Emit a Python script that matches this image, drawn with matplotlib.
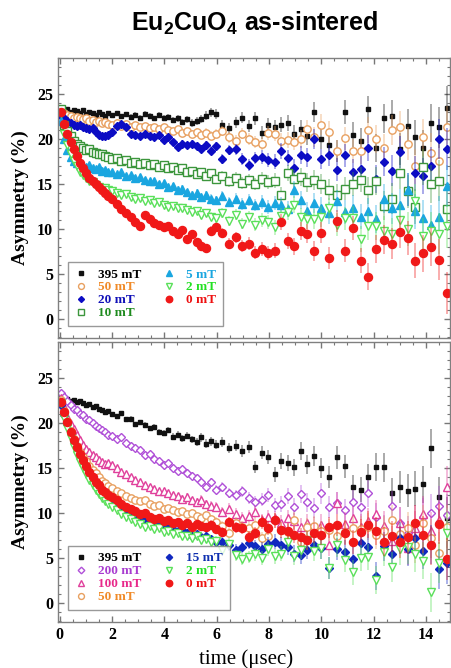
import matplotlib
matplotlib.use("Agg")
import matplotlib.pyplot as plt
from matplotlib.ticker import MultipleLocator

plt.rcParams['font.family'] = ['Liberation Serif', 'DejaVu Serif']
plt.rcParams['mathtext.fontset'] = 'custom'
plt.rcParams['mathtext.rm'] = 'Liberation Sans:bold'
plt.rcParams['mathtext.bf'] = 'Liberation Sans:bold'

# time bins (usec), shared by all spectra
t_us = [0.05, 0.17, 0.29, 0.41, 0.53, 0.65, 0.77, 0.89, 1.01, 1.13, 1.25, 1.37, 1.49, 1.61, 1.73, 1.85,
        1.99, 2.17, 2.35, 2.53, 2.71, 2.89, 3.07, 3.25, 3.43, 3.61, 3.79, 3.97, 4.15, 4.33, 4.51, 4.69,
        4.87, 5.05, 5.23, 5.41, 5.59, 5.77,
        5.97, 6.22, 6.47, 6.72, 6.97, 7.22, 7.47, 7.72, 7.97, 8.22, 8.47, 8.72, 8.97, 9.22, 9.47, 9.72,
        9.99, 10.3, 10.6, 10.9, 11.2, 11.5, 11.8, 12.1, 12.4, 12.7, 13.0, 13.3, 13.6, 13.9, 14.2, 14.5, 14.8]

err = [0.15, 0.15, 0.15, 0.15, 0.15, 0.16, 0.16, 0.16, 0.17, 0.17, 0.18, 0.18, 0.19, 0.19, 0.2, 0.2,
       0.21, 0.22, 0.23, 0.24, 0.25, 0.26, 0.27, 0.28, 0.29, 0.3, 0.31, 0.33, 0.34, 0.35, 0.37, 0.38,
       0.4, 0.42, 0.44, 0.46, 0.48, 0.5,
       0.52, 0.55, 0.58, 0.61, 0.64, 0.67, 0.7, 0.74, 0.78, 0.82, 0.86, 0.9, 0.95, 1.0, 1.05, 1.1,
       1.15, 1.2, 1.25, 1.3, 1.36, 1.42, 1.48, 1.55, 1.62, 1.7, 1.78, 1.86, 1.95, 2.05, 2.15, 2.25, 2.35]

# ---- top panel ----
top_395 = [23.4, 23.2, 23.3, 23.0, 23.2, 23.1, 22.9, 23.2, 22.8, 23.0, 22.9, 22.7, 23.0, 22.8, 22.6, 22.9,
           22.7, 22.9, 22.6, 22.8, 22.5, 22.7, 22.4, 22.8, 22.6, 22.3, 22.7, 22.4, 22.5, 22.1, 22.3, 21.9,
           22.2, 21.8, 22.0, 22.2, 22.6, 23.0,
           22.8, 21.6, 21.2, 21.9, 22.4, 21.5, 22.3, 20.7, 21.6, 21.3, 21.6, 21.8, 20.6, 21.1, 20.4, 23.0,
           20.0, 19.3, 18.7, 23.0, 20.5, 19.8, 23.3, 19.0, 22.3, 22.6, 18.9, 21.5, 20.2, 19.0, 21.8, 21.3, 23.5]
top_50 = [23.1, 22.9, 22.7, 22.6, 22.4, 22.5, 22.3, 22.2, 22.4, 22.0, 22.1, 21.9, 22.0, 21.8, 21.9, 21.7,
          21.6, 21.8, 21.5, 21.7, 21.4, 21.6, 21.3, 21.5, 21.2, 21.4, 21.1, 21.3, 21.0, 20.9, 21.1, 20.7,
          20.9, 20.6, 20.8, 20.5, 20.7, 20.4,
          20.6, 20.9, 20.2, 19.8, 20.6, 20.0, 19.7, 19.5, 20.7, 20.6, 19.8, 19.9, 19.7, 20.0, 21.1, 20.2,
          21.6, 20.8, 18.7, 20.1, 18.7, 18.7, 21.0, 20.0, 19.0, 21.0, 21.3, 19.5, 17.0, 20.2, 18.5, 17.6, 21.3]
top_20 = [22.6, 22.3, 22.0, 21.8, 21.6, 21.5, 21.6, 21.3, 21.2, 21.1, 21.2, 20.8, 20.5, 20.4, 20.3, 20.5,
          20.8, 21.5, 21.7, 21.4, 20.6, 20.5, 20.3, 20.6, 20.4, 20.2, 20.5, 19.9, 20.2, 19.7, 19.1, 19.5,
          19.3, 19.5, 19.2, 18.9, 19.3, 18.7,
          19.2, 17.8, 18.8, 18.9, 17.8, 17.1, 17.9, 18.0, 17.7, 17.5, 18.7, 17.9, 16.8, 18.2, 18.0, 20.0,
          17.8, 18.2, 16.6, 18.2, 16.4, 16.7, 19.0, 15.6, 17.5, 16.5, 18.6, 14.4, 16.2, 15.9, 17.0, 20.0, 18.9]
top_10 = [23.3, 21.6, 20.9, 20.3, 19.8, 19.5, 19.2, 19.0, 18.8, 18.9, 18.6, 18.5, 18.3, 18.4, 18.1, 18.0,
          17.8, 17.9, 17.6, 17.7, 17.4, 17.5, 17.2, 17.4, 17.1, 17.2, 16.9, 17.1, 16.8, 16.9, 16.6, 16.8,
          16.4, 16.5, 16.1, 16.3, 15.9, 16.2,
          15.6, 15.9, 15.3, 15.7, 15.1, 15.5, 15.0, 15.6, 15.2, 15.4, 13.8, 16.2, 15.6, 15.8, 15.2, 15.5,
          15.0, 14.4, 13.8, 14.5, 15.0, 15.5, 14.3, 15.3, 12.6, 13.4, 16.2, 14.2, 12.5, 16.9, 15.0, 15.4, 12.2]
top_5 = [22.0, 20.0, 18.8, 18.0, 17.6, 17.3, 17.2, 17.0, 16.9, 17.1, 16.8, 16.7, 16.9, 16.5, 16.6, 16.4,
         16.4, 16.1, 16.3, 15.9, 16.0, 15.7, 15.8, 15.5, 15.3, 15.4, 15.0, 15.1, 14.7, 14.8, 14.4, 14.5,
         14.1, 13.8, 14.0, 13.6, 13.8, 13.4,
         13.2, 13.7, 13.0, 13.4, 12.8, 13.2, 12.7, 13.0, 12.5, 12.9, 12.7, 12.2, 14.4, 13.2, 12.0, 12.9,
         12.4, 11.8, 13.1, 11.9, 12.4, 11.4, 12.0, 11.1, 13.4, 12.3, 12.7, 14.4, 12.0, 11.2, 10.5, 11.4, 14.8]
top_2 = [22.9, 20.6, 19.4, 18.4, 17.6, 17.0, 16.4, 16.0, 15.7, 15.4, 15.2, 14.9, 14.7, 14.5, 14.6, 14.3,
         14.2, 14.0, 13.8, 13.9, 13.6, 13.4, 13.5, 13.1, 13.2, 12.9, 13.0, 12.7, 12.5, 12.6, 12.3, 12.4,
         12.1, 11.9, 12.0, 11.6, 11.8, 11.4,
         11.2, 11.8, 10.9, 11.6, 10.6, 11.3, 10.5, 11.0, 10.8, 10.2, 11.5, 11.9, 12.7, 11.4, 11.1, 11.1,
         11.4, 12.3, 10.5, 11.2, 11.2, 8.9, 10.3, 10.3, 9.8, 9.5, 11.0, 10.0, 13.1, 9.2, 9.8, 9.5, 10.3]
top_0 = [23.0, 21.7, 20.6, 19.7, 18.9, 18.1, 17.4, 16.8, 16.2, 15.7, 15.3, 15.0, 14.7, 14.3, 14.0, 13.7,
         13.3, 12.8, 12.2, 11.8, 11.3, 10.8, 10.3, 11.6, 11.1, 10.7, 10.5, 10.2, 10.4, 9.8, 9.5, 9.9,
         8.9, 9.5, 8.6, 8.1, 7.9, 9.8,
         10.2, 9.6, 8.4, 9.1, 8.1, 8.4, 7.4, 7.8, 7.3, 7.6, 10.8, 8.7, 8.1, 9.8, 9.5, 7.6,
         9.6, 6.8, 10.9, 7.6, 10.1, 6.5, 4.7, 7.8, 8.8, 8.4, 9.7, 9.0, 6.5, 7.3, 8.0, 6.6, 2.9]

# ---- bottom panel ----
bot_395 = [23.0, 22.8, 22.7, 22.5, 22.6, 22.3, 22.4, 22.2, 22.0, 22.1, 21.8, 21.9, 21.6, 21.5, 21.2, 21.3,
           21.0, 20.8, 21.1, 20.4, 20.5, 19.9, 20.1, 19.8, 19.4, 19.6, 19.0, 18.9, 19.2, 18.5, 18.7, 18.3,
           18.6, 18.2, 17.9, 18.4, 17.7, 18.0,
           17.6, 17.9, 17.2, 17.5, 16.9, 17.3, 15.1, 16.7, 16.2, 14.3, 15.8, 15.6, 15.1, 16.9, 15.4, 16.3,
           15.0, 14.0, 16.2, 15.2, 12.9, 12.6, 14.0, 15.1, 15.1, 12.2, 12.9, 12.5, 12.7, 13.2, 17.2, 11.8, 9.4]
bot_200 = [23.3, 22.9, 22.4, 22.0, 21.6, 21.4, 21.0, 20.9, 20.5, 20.3, 20.0, 19.7, 19.5, 19.2, 19.0, 18.7,
           18.6, 18.2, 18.4, 17.8, 17.5, 17.2, 17.0, 16.4, 16.6, 16.0, 15.8, 15.3, 15.6, 15.0, 14.7, 14.9,
           14.4, 14.1, 13.9, 13.5, 12.9, 13.4,
           12.6, 12.9, 12.2, 12.0, 12.4, 11.7, 11.2, 11.5, 12.0, 10.9, 11.0, 11.9, 10.7, 12.1, 11.2, 10.6,
           12.2, 10.7, 11.1, 10.3, 11.2, 10.7, 12.2, 9.6, 8.2, 10.8, 8.9, 7.8, 8.9, 9.6, 10.0, 10.8, 9.8]
bot_100 = [22.8, 21.8, 20.7, 19.9, 19.3, 18.7, 18.1, 17.6, 17.1, 16.8, 16.5, 16.2, 15.9, 15.7, 15.5, 15.6,
           15.3, 15.0, 14.6, 14.3, 14.0, 13.7, 13.5, 13.1, 12.9, 12.7, 12.4, 12.5, 12.2, 12.0, 11.9, 11.6,
           11.8, 11.4, 11.2, 11.5, 11.0, 10.8,
           10.7, 10.1, 10.5, 9.9, 9.5, 9.7, 10.1, 9.2, 9.6, 9.4, 8.9, 9.4, 9.1, 8.4, 8.9, 8.5,
           8.7, 6.4, 11.1, 8.8, 9.4, 8.5, 9.1, 9.9, 8.6, 6.9, 8.9, 6.1, 8.3, 9.9, 8.0, 9.2, 12.9]
bot_50 = [22.6, 21.3, 20.2, 19.1, 18.2, 17.5, 16.8, 16.2, 15.8, 15.2, 14.8, 14.5, 14.0, 13.6, 13.3, 13.0,
          12.8, 12.4, 12.2, 11.9, 11.7, 11.5, 11.3, 11.4, 11.0, 10.8, 10.9, 10.5, 10.6, 10.3, 10.1, 10.2,
          9.9, 10.0, 9.7, 9.5, 9.8, 9.3,
          9.0, 8.6, 7.8, 8.9, 8.5, 8.3, 8.7, 7.2, 7.4, 9.2, 8.1, 7.9, 9.2, 6.8, 8.4, 8.6,
          8.0, 8.1, 7.5, 7.9, 8.3, 8.2, 8.5, 7.6, 8.0, 9.2, 7.7, 8.3, 6.4, 8.9, 7.2, 5.6, 8.5]
bot_15 = [22.0, 20.9, 19.9, 18.9, 18.0, 17.2, 16.5, 15.8, 15.2, 14.6, 14.0, 13.5, 13.0, 12.6, 12.2, 11.8,
          11.4, 11.0, 10.6, 10.3, 10.0, 9.7, 9.5, 9.2, 9.0, 8.7, 8.8, 8.4, 8.5, 8.2, 8.0, 8.1,
          7.8, 7.5, 7.7, 7.3, 7.5, 7.1,
          6.8, 6.8, 6.4, 5.9, 6.2, 6.7, 6.3, 6.0, 6.6, 6.8, 6.5, 6.2, 5.5, 5.3, 5.9, 6.4,
          6.1, 3.9, 6.0, 5.7, 4.9, 6.7, 6.2, 3.0, 6.3, 5.5, 7.2, 6.0, 7.2, 5.8, 6.5, 3.8, 4.5]
bot_2 = [22.2, 20.6, 19.4, 18.3, 17.3, 16.5, 15.7, 15.0, 14.3, 13.7, 13.1, 12.6, 12.1, 11.7, 11.3, 11.0,
         10.7, 10.3, 9.9, 9.6, 9.3, 9.0, 8.8, 8.5, 8.6, 8.2, 8.3, 7.9, 8.0, 7.7, 7.8, 7.4,
         7.5, 7.2, 7.4, 7.0, 7.1, 6.8,
         6.9, 5.9, 6.6, 5.3, 4.9, 5.1, 5.4, 5.0, 6.0, 5.2, 5.5, 6.8, 5.2, 5.9, 7.0, 5.8,
         6.1, 3.9, 6.4, 4.8, 3.4, 5.0, 5.1, 2.6, 5.7, 4.0, 6.0, 6.2, 5.4, 4.7, 1.2, 4.5, 7.8]
bot_0 = [22.3, 21.2, 20.1, 19.0, 18.1, 17.3, 16.6, 15.9, 15.2, 14.6, 14.0, 13.5, 13.1, 12.6, 12.3, 12.0,
         11.8, 11.4, 11.0, 10.7, 10.5, 10.2, 9.9, 10.0, 9.6, 9.3, 9.5, 9.1, 9.2, 8.9, 9.0, 8.7,
         8.9, 8.5, 8.8, 8.6, 8.4, 8.7,
         8.2, 7.9, 9.0, 8.4, 8.3, 7.3, 7.8, 9.0, 8.3, 9.2, 8.1, 8.0, 7.6, 7.3, 7.0, 7.8,
         7.6, 8.4, 8.7, 7.8, 6.8, 7.9, 8.7, 8.0, 6.8, 7.4, 6.8, 7.3, 8.9, 7.6, 6.4, 8.8, 4.9]

# label, values, marker, marker colour, filled, size, legend text colour
top_series = [
    ('395 mT', top_395, 's', '#111111', True, 2.8, '#000000'),
    ('50 mT', top_50, 'o', '#e8a060', False, 5.3, '#f08a28'),
    ('20 mT', top_20, 'D', '#0c0cc4', True, 3.8, '#1010b8'),
    ('10 mT', top_10, 's', '#3c963c', False, 5.3, '#1e8a1e'),
    ('5 mT', top_5, '^', '#1aa6e0', True, 5.3, '#1aa6e0'),
    ('2 mT', top_2, 'v', '#5ae05a', False, 5.3, '#22e022'),
    ('0 mT', top_0, 'o', '#f01818', True, 5.8, '#ee1010'),
]
bot_series = [
    ('395 mT', bot_395, 's', '#111111', True, 2.8, '#000000'),
    ('200 mT', bot_200, 'D', '#b050d8', False, 4.2, '#a83cd0'),
    ('100 mT', bot_100, '^', '#e0409c', False, 5.3, '#e8288a'),
    ('50 mT', bot_50, 'o', '#e8a060', False, 5.3, '#f08a28'),
    ('15 mT', bot_15, 'D', '#1028c0', True, 4.0, '#1030b0'),
    ('2 mT', bot_2, 'v', '#5ae05a', False, 5.3, '#22e022'),
    ('0 mT', bot_0, 'o', '#f01818', True, 5.8, '#ee1010'),
]

fig = plt.figure(figsize=(4.51, 6.68), dpi=100)
ax1 = fig.add_axes([0.1286, 0.494, 0.869, 0.419])
ax2 = fig.add_axes([0.1286, 0.0689, 0.869, 0.419])


def draw_panel(ax, series):
    handles = []
    for label, vals, mk, col, filled, ms, tcol in series:
        ax.errorbar(t_us, vals, yerr=err, fmt='none', ecolor=col, elinewidth=1.1, alpha=0.45, capsize=0)
        h, = ax.plot(t_us, vals, linestyle='none', marker=mk, ms=ms, mec=col,
                     mfc=col if filled else 'white', mew=1.0, label=label)
        handles.append(h)
    ax.set_xlim(-0.07, 14.92)
    ax.set_ylim(-2.1, 29.0)
    ax.xaxis.set_major_locator(MultipleLocator(2))
    ax.xaxis.set_minor_locator(MultipleLocator(0.5))
    ax.yaxis.set_major_locator(MultipleLocator(5))
    ax.yaxis.set_minor_locator(MultipleLocator(1))
    ax.tick_params(which='both', direction='in', top=True, right=True, color='#777777')
    ax.tick_params(which='major', length=4.5, width=1)
    ax.tick_params(which='minor', length=2.5, width=0.8)
    ax.set_yticks([0, 5, 10, 15, 20, 25])
    for lab in ax.get_yticklabels() + ax.get_xticklabels():
        lab.set_fontweight('bold')
        lab.set_fontsize(11.5)
    for sp in ax.spines.values():
        sp.set_color('#808080')
        sp.set_linewidth(1.0)
    ax.set_ylabel('Asymmetry (%)', fontsize=14, fontweight='bold', labelpad=6)
    leg = ax.legend(handles=handles, ncol=2, loc='lower left', bbox_to_anchor=(0.008, 0.02),
                    prop={'weight': 'bold', 'size': 9.5}, frameon=True, fancybox=False,
                    edgecolor='#808080', handlelength=1.0, handletextpad=0.8, columnspacing=1.6,
                    labelspacing=0.05, borderpad=0.5, markerscale=0.8)
    leg.get_frame().set_linewidth(1.0)
    for txt, s in zip(leg.get_texts(), series):
        txt.set_color(s[6])


draw_panel(ax1, top_series)
draw_panel(ax2, bot_series)
ax1.tick_params(labelbottom=False)

fig.text(246 / 451, 1 - 659 / 668, 'time (\u03bcsec)', ha='center', va='center', fontsize=15)
fig.text(254 / 451, 1 - 23 / 668, r'Eu$_2$CuO$_4$ as-sintered', ha='center', va='center',
         fontsize=18, fontweight='bold', family='Liberation Sans')

fig.savefig('out.png', dpi=100)
